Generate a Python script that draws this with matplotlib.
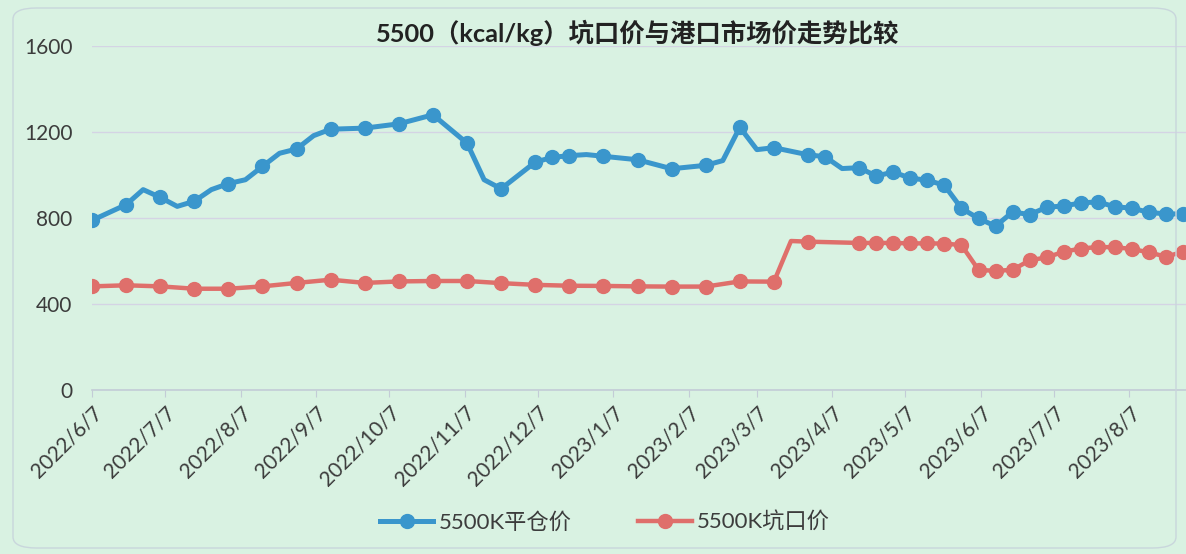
import matplotlib
matplotlib.use("Agg")
import matplotlib.pyplot as plt
import matplotlib.dates as mdates
from matplotlib.ticker import FuncFormatter, FixedLocator
from matplotlib.patches import FancyBboxPatch
import numpy as np
import pandas as pd

plt.rcParams['font.family'] = ['Lato', 'Noto Sans CJK SC', 'DejaVu Sans']

title = "5500（kcal/kg）坑口价与港口市场价走势比较"
series_names = ["5500K平仓价", "5500K坑口价"]

blue_dates = ['2022-06-07', '2022-06-21', '2022-06-28', '2022-07-05', '2022-07-12', '2022-07-19',
              '2022-07-26', '2022-08-02', '2022-08-09', '2022-08-16', '2022-08-23', '2022-08-30',
              '2022-09-06', '2022-09-13', '2022-09-27', '2022-10-11', '2022-10-25', '2022-11-08',
              '2022-11-15', '2022-11-22', '2022-12-06', '2022-12-13', '2022-12-20', '2022-12-27',
              '2023-01-03', '2023-01-17', '2023-01-31', '2023-02-14', '2023-02-21', '2023-02-28',
              '2023-03-07', '2023-03-14', '2023-03-28', '2023-04-04', '2023-04-11', '2023-04-18',
              '2023-04-25', '2023-05-02', '2023-05-09', '2023-05-16', '2023-05-23', '2023-05-30',
              '2023-06-06', '2023-06-13', '2023-06-20', '2023-06-27', '2023-07-04', '2023-07-11',
              '2023-07-18', '2023-07-25', '2023-08-01', '2023-08-08', '2023-08-15', '2023-08-22',
              '2023-08-29']
blue_values = [789, 862, 932, 896, 854, 878, 932, 960, 978, 1040, 1101, 1121,
               1183, 1213, 1218, 1238, 1280, 1148, 978, 936, 1060, 1082, 1090, 1095,
               1087, 1071, 1029, 1045, 1067, 1222, 1118, 1127, 1094, 1085, 1030, 1034,
               995, 1014, 985, 976, 952, 845, 798, 762, 828, 816, 850, 856,
               870, 875, 852, 846, 826, 819, 819]
blue_unmarked = ['2022-06-28', '2022-07-12', '2022-07-26', '2022-08-09', '2022-08-23',
                 '2022-09-06', '2022-11-15', '2022-12-27', '2023-02-21', '2023-03-07',
                 '2023-04-11']

red_dates = ['2022-06-07', '2022-06-21', '2022-07-05', '2022-07-19', '2022-08-02', '2022-08-16',
             '2022-08-30', '2022-09-13', '2022-09-27', '2022-10-11', '2022-10-25', '2022-11-08',
             '2022-11-22', '2022-12-06', '2022-12-20', '2023-01-03', '2023-01-17', '2023-01-31',
             '2023-02-14', '2023-02-28', '2023-03-14', '2023-03-21', '2023-03-28', '2023-04-18',
             '2023-04-25', '2023-05-02', '2023-05-09', '2023-05-16', '2023-05-23', '2023-05-30',
             '2023-06-06', '2023-06-13', '2023-06-20', '2023-06-27', '2023-07-04', '2023-07-11',
             '2023-07-18', '2023-07-25', '2023-08-01', '2023-08-08', '2023-08-15', '2023-08-22',
             '2023-08-29']
red_values = [482, 487, 482, 471, 471, 482, 498, 513, 498, 505, 507, 507,
              497, 489, 485, 484, 482, 481, 481, 505, 504, 693, 690, 684,
              684, 684, 682, 682, 681, 674, 559, 554, 559, 603, 617, 643,
              658, 665, 664, 656, 640, 620, 643]
red_unmarked = ['2023-03-21']

y_ticks = [0, 400, 800, 1200, 1600]

BG = '#d9f2e2'
BLUE = '#3a96cc'
RED = '#df6f6b'

W, H = 1186, 554
fig = plt.figure(figsize=(W / 100, H / 100), dpi=100, facecolor=BG)

# chart-area border (rounded)
border = FancyBboxPatch((13 / W, 6 / H), (1176 - 13) / W, (546 - 6) / H,
                        boxstyle="round,pad=0,rounding_size=0.02",
                        transform=fig.transFigure, facecolor='none',
                        edgecolor='#c9d6dc', linewidth=1.0)
fig.patches.append(border)

ax = fig.add_axes([92 / W, (H - 390) / H, (W - 92) / W, (390 - 46) / H])
ax.set_facecolor(BG)

bd = pd.to_datetime(blue_dates)
rd = pd.to_datetime(red_dates)
bmask = [d not in set(blue_unmarked) for d in blue_dates]
rmask = [d not in set(red_unmarked) for d in red_dates]

ax.plot(bd, blue_values, color=BLUE, lw=3.6, marker='o', ms=10,
        markevery=bmask, solid_joinstyle='round', label=series_names[0], zorder=3)
ax.plot(rd, red_values, color=RED, lw=3.2, marker='o', ms=10,
        markevery=rmask, solid_joinstyle='round', label=series_names[1], zorder=3)

x0 = pd.Timestamp('2022-06-07')
x1 = pd.Timestamp('2023-08-29') + pd.Timedelta(days=1.2)
ax.set_xlim(x0, x1)
ax.set_ylim(0, 1600)

ax.yaxis.set_major_locator(FixedLocator(y_ticks))
ax.grid(axis='y', color='#d4d4e4', lw=1.0)
ax.set_axisbelow(True)

ax.xaxis.set_major_locator(mdates.MonthLocator(bymonthday=7))
def fmt(v, pos):
    d = mdates.num2date(v)
    return f"{d.year}/{d.month}/{d.day}"
ax.xaxis.set_major_formatter(FuncFormatter(fmt))

for s in ['top', 'right', 'left']:
    ax.spines[s].set_visible(False)
ax.spines['bottom'].set_color('#c3ccd6')
ax.spines['bottom'].set_linewidth(1.2)

ax.tick_params(axis='y', length=0, pad=14, labelsize=15, labelcolor='#3c3c3c')
ax.tick_params(axis='x', length=5, color='#c3ccd6', pad=4, labelsize=15, labelcolor='#3c3c3c')
for lbl in ax.get_xticklabels():
    lbl.set_rotation(45)
    lbl.set_ha('right')
    lbl.set_va('top')
    lbl.set_rotation_mode('anchor')

fig.text(638 / W, 1 - 33 / H, title, ha='center', va='center', fontsize=18.3,
         fontweight='bold', color='#222222')

leg = fig.legend(loc='center', bbox_to_anchor=(605 / W, 1 - 522 / H), ncol=2,
                 frameon=False, fontsize=16, handlelength=2.4, columnspacing=3.0,
                 handletextpad=0.25, labelcolor='#3c3c3c')

fig.savefig('out.png', dpi=100, facecolor=BG)
